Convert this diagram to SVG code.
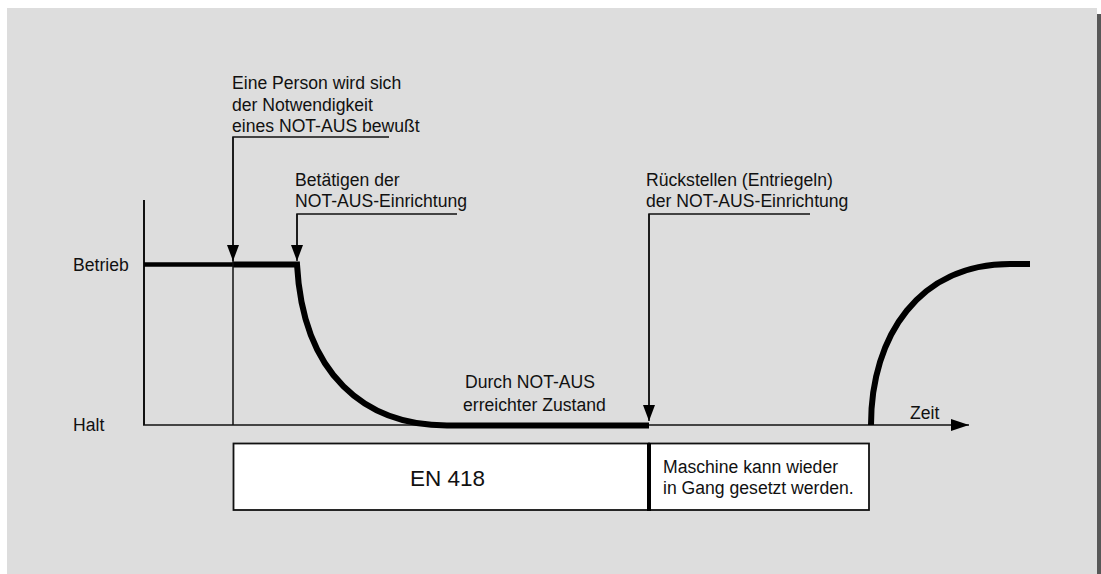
<svg xmlns="http://www.w3.org/2000/svg" width="1101" height="574" viewBox="0 0 1101 574">
<style>
text{font-family:"Liberation Sans",Arial,sans-serif;font-size:17.6px;fill:#111}
.thin{stroke:#111;stroke-width:1.5;fill:none}
.axis{stroke:#111;stroke-width:2;fill:none}
.thick{stroke:#000;stroke-width:6;fill:none}
.box{fill:#fff;stroke:#111;stroke-width:1.8}
</style>
<defs>
<marker id="ah" viewBox="0 0 16 12" refX="16" refY="6" markerWidth="16" markerHeight="12" markerUnits="userSpaceOnUse" orient="auto">
<path d="M0,0 L16,6 L0,12 Z" fill="#000"/>
</marker>
<marker id="ax" viewBox="0 0 18 12" refX="18" refY="6" markerWidth="18" markerHeight="12" markerUnits="userSpaceOnUse" orient="auto">
<path d="M0,0 L18,6 L0,12 Z" fill="#000"/>
</marker>
</defs>
<rect x="7" y="8" width="1090" height="566" fill="#dddddd"/>
<rect x="1097" y="14" width="4" height="560" fill="#575757"/>

<g id="axes">
<line class="axis" x1="144" y1="200" x2="144" y2="425"/>
<line x1="143" y1="425" x2="969" y2="425" stroke="#111" stroke-width="1.6" marker-end="url(#ax)"/>
<text x="73" y="271">Betrieb</text>
<text x="73" y="431">Halt</text>
<text x="910" y="419">Zeit</text>
</g>

<g id="curve">
<line x1="144" y1="264.5" x2="233" y2="264.5" stroke="#000" stroke-width="4.5"/>
<path class="thick" d="M233,264.5 L297,264.5 C303,375 365,425.5 447,425.5 L649,425.5"/>
<path class="thick" d="M871,425 C871,335 920,264 1010,264 L1030,264"/>
<text x="465" y="388">Durch NOT-AUS</text>
<text x="463" y="411">erreichter Zustand</text>
</g>

<g id="connectors">
<polyline class="thin" points="389,137 233,137 233,425"/>
<line class="thin" x1="233" y1="137" x2="233" y2="261" marker-end="url(#ah)"/>
<polyline class="thin" points="457,214 297,214 297,245"/>
<line class="thin" x1="297" y1="214" x2="297" y2="261" marker-end="url(#ah)"/>
<polyline class="thin" points="810,214 649,214 649,405"/>
<line class="thin" x1="649" y1="214" x2="649" y2="421" marker-end="url(#ah)"/>
</g>

<g id="label-person">
<text x="232" y="89">Eine Person wird sich</text>
<text x="232" y="110.5">der Notwendigkeit</text>
<text x="232" y="132">eines NOT-AUS bewußt</text>
</g>
<g id="label-betaetigen">
<text x="295" y="186">Betätigen der</text>
<text x="295" y="207">NOT-AUS-Einrichtung</text>
</g>
<g id="label-rueckstellen">
<text x="646" y="186">Rückstellen (Entriegeln)</text>
<text x="646" y="207">der NOT-AUS-Einrichtung</text>
</g>

<g id="box-en418">
<rect class="box" x="233.5" y="443.5" width="415.5" height="66.5"/>
<text x="447.5" y="486" style="font-size:22.5px" text-anchor="middle">EN 418</text>
</g>
<g id="box-maschine">
<rect class="box" x="649" y="443.5" width="220" height="66.5"/>
<line x1="649" y1="443" x2="649" y2="511" stroke="#000" stroke-width="4"/>
<text x="663" y="472.5">Maschine kann wieder</text>
<text x="663" y="493.5">in Gang gesetzt werden.</text>
</g>
</svg>
